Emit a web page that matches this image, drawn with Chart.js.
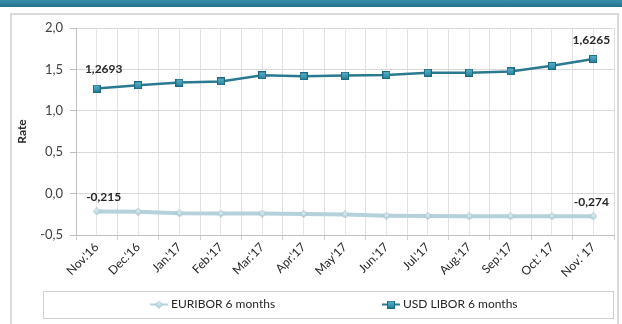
<!DOCTYPE html>
<html>
<head>
<meta charset="utf-8">
<script src="https://cdn.jsdelivr.net/npm/chart.js@4"></script>
<style>
  html, body { margin: 0; padding: 0; background: #fff; }
  #wrap { position: relative; width: 622px; height: 324px; overflow: hidden; }
  #band { position: absolute; left: 0; top: 0; width: 622px; height: 7px;
          background: linear-gradient(#3a8fab, #24728d); }
  #panel { position: absolute; left: 10px; top: 13px; width: 609px; height: 320px;
           border: 2px solid #d9d9d9; box-sizing: border-box; background: #fff; }
  canvas { position: absolute; left: 0; top: 0; }
</style>
</head>
<body>
<div id="wrap">
  <div id="band"></div>
  <div id="panel"></div>
  <canvas id="c" width="622" height="324"></canvas>
</div>
<script>
const months = ["Nov.'16", "Dec.'16", "Jan.'17", "Feb.'17", "Mar.'17", "Apr.'17", "May'17",
                "Jun.'17", "Jul.'17", "Aug.'17", "Sep.'17", "Oct.' 17", "Nov.' 17"];
const euribor6m = [-0.215, -0.218, -0.238, -0.241, -0.241, -0.246, -0.251,
                   -0.267, -0.272, -0.273, -0.273, -0.274, -0.274];
const usdLibor6m = [1.2693, 1.309, 1.341, 1.354, 1.428, 1.418, 1.425,
                    1.433, 1.460, 1.461, 1.475, 1.543, 1.6265];
const seriesNames = ["EURIBOR 6 months", "USD LIBOR 6 months"];
const yTicks = [-0.5, 0, 0.5, 1.0, 1.5, 2.0];

const FONT = "Lato, 'Liberation Sans', sans-serif";
const comma = (v, d) => v.toFixed(d).replace('.', ',');

// Marker sprites shared by the chart points and the legend
function squareMarker(size) {
  const c = document.createElement('canvas');
  c.width = size; c.height = size;
  const g = c.getContext('2d');
  const gr = g.createLinearGradient(0, 0, 0, size);
  gr.addColorStop(0, '#5fb3cb'); gr.addColorStop(1, '#23809c');
  g.fillStyle = gr; g.fillRect(0, 0, size, size);
  g.strokeStyle = '#1d6a80'; g.lineWidth = 1; g.strokeRect(0.5, 0.5, size - 1, size - 1);
  return c;
}
function diamondMarker(size) {
  const c = document.createElement('canvas');
  c.width = size; c.height = size;
  const g = c.getContext('2d');
  const h = size / 2;
  g.beginPath(); g.moveTo(h, 0.5); g.lineTo(size - 0.5, h); g.lineTo(h, size - 0.5); g.lineTo(0.5, h); g.closePath();
  const gr = g.createLinearGradient(0, 0, 0, size);
  gr.addColorStop(0, '#f2f8fa'); gr.addColorStop(1, '#a9cad5');
  g.fillStyle = gr; g.fill();
  g.strokeStyle = '#9fc1cc'; g.lineWidth = 1; g.stroke();
  return c;
}
const sq = squareMarker(8);
const dm = diamondMarker(8);

// Framed legend drawn beneath the axis labels
const boxedLegend = {
  id: 'boxedLegend',
  afterDraw(chart) {
    const ctx = chart.ctx;
    const top = 291, bottom = 318, left = 43, right = 613;
    ctx.save();
    ctx.strokeStyle = '#d0d0d0'; ctx.lineWidth = 1;
    ctx.strokeRect(left + 0.5, top + 0.5, right - left, bottom - top);
    const cy = (top + bottom) / 2;
    const starts = [150, 382];
    chart.data.datasets.forEach((ds, i) => {
      const x = starts[i];
      ctx.strokeStyle = ds.borderColor;
      ctx.lineWidth = 2;
      ctx.beginPath(); ctx.moveTo(x, cy); ctx.lineTo(x + 18, cy); ctx.stroke();
      const m = ds.pointStyle;
      ctx.drawImage(m, x + 9 - m.width / 2, cy - m.height / 2);
      ctx.fillStyle = '#262626';
      ctx.font = "12px " + FONT;
      ctx.textAlign = 'left'; ctx.textBaseline = 'middle';
      ctx.fillText(ds.label, x + 21, cy);
    });
    ctx.restore();
  }
};

// First / last value labels for each series
const endLabels = {
  id: 'endLabels',
  afterDatasetsDraw(chart) {
    const ctx = chart.ctx;
    ctx.save();
    ctx.font = "bold 12px " + FONT;
    ctx.fillStyle = '#262626';
    ctx.textAlign = 'center'; ctx.textBaseline = 'middle';
    chart.data.datasets.forEach((ds, di) => {
      const meta = chart.getDatasetMeta(di);
      const dec = di === 0 ? 3 : 4;
      const dy = di === 0 ? -14 : -19;
      const last = ds.data.length - 1;
      [[0, 7], [last, -2]].forEach(([idx, dx]) => {
        const p = meta.data[idx];
        ctx.fillText(comma(ds.data[idx], dec), p.x + dx, p.y + dy);
      });
    });
    ctx.restore();
  }
};

new Chart(document.getElementById('c'), {
  type: 'line',
  data: {
    labels: months,
    datasets: [
      {
        label: seriesNames[0],
        data: euribor6m,
        borderColor: '#b5d2dc',
        borderWidth: 4,
        pointStyle: dm,
        pointRadius: 4,
        pointHoverRadius: 4,
        tension: 0
      },
      {
        label: seriesNames[1],
        data: usdLibor6m,
        borderColor: '#2a7990',
        borderWidth: 2.5,
        pointStyle: sq,
        pointRadius: 4,
        pointHoverRadius: 4,
        tension: 0
      }
    ]
  },
  options: {
    responsive: false,
    animation: false,
    events: [],
    layout: { padding: { top: 28, right: 3, bottom: 39, left: 0 } },
    plugins: { legend: { display: false }, tooltip: { enabled: false } },
    scales: {
      x: {
        type: 'category',
        offset: true,
        grid: { offset: true, color: '#e0e0e0', lineWidth: 1, drawTicks: true, tickLength: 5, tickColor: '#cfcfcf' },
        border: { color: '#bfbfbf' },
        ticks: {
          autoSkip: false, maxRotation: 45, minRotation: 45, padding: 0,
          color: '#262626', font: { family: FONT, size: 12 }
        },
        afterFit(s) { s.height = 50; }
      },
      xc: {
        type: 'category',
        position: 'top',
        offset: true,
        grid: { offset: false, color: '#e6e6e6', drawTicks: false },
        border: { display: false },
        ticks: { display: false },
        afterFit(s) { s.height = 0; }
      },
      y: {
        min: -0.5, max: 2.0,
        afterBuildTicks(s) { s.ticks = yTicks.map(v => ({ value: v })); },
        grid: { color: '#d9d9d9', tickLength: 6, tickColor: '#bfbfbf' },
        border: { color: '#bfbfbf' },
        ticks: {
          padding: 7, color: '#404040', font: { family: FONT, size: 13 },
          callback: v => comma(v, 1)
        },
        title: {
          display: true, text: 'Rate', color: '#262626',
          font: { family: FONT, size: 12, weight: 'bold' },
          padding: { top: 15, bottom: 0 }
        },
        afterFit(s) { s.width = 76; }
      }
    }
  },
  plugins: [boxedLegend, endLabels]
});
</script>
</body>
</html>
